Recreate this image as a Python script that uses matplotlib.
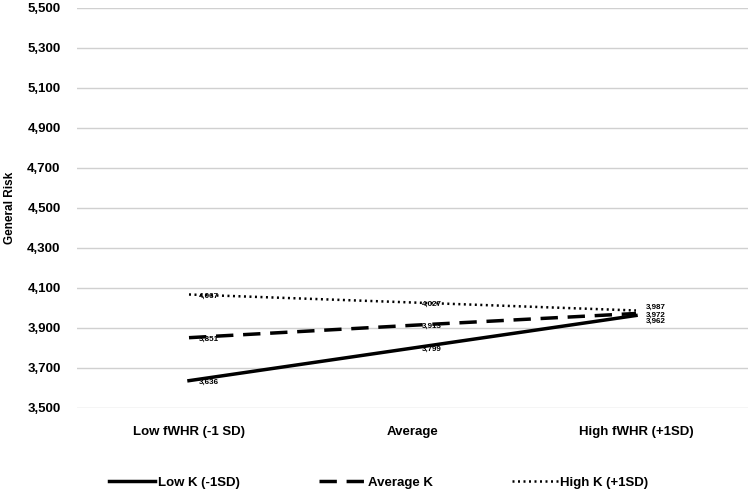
import matplotlib.pyplot as plt
from matplotlib.ticker import FuncFormatter

plt.rcParams['font.family'] = ['Liberation Sans', 'DejaVu Sans']
plt.rcParams['font.weight'] = 'bold'

categories = ["Low fWHR (-1 SD)", "Average", "High fWHR (+1SD)"]
low_k = [3.636, 3.799, 3.962]
avg_k = [3.851, 3.913, 3.972]
high_k = [4.067, 4.027, 3.987]
series_names = ["Low K (-1SD)", "Average K", "High K (+1SD)"]

fig = plt.figure(figsize=(7.5, 4.98), dpi=100)
ax = fig.add_axes([0.103, 0.181, 0.894, 0.803])

x = range(len(categories))
ax.plot(x, low_k, color='black', lw=2.5, ls='-', label=series_names[0])
ax.plot(x, avg_k, color='black', lw=2.5, ls=(0, (5, 2.8)), label=series_names[1])
ax.plot(x, high_k, color='black', lw=1.8, ls=(0, (0.8, 1.4)), label=series_names[2])

def fmt(v):
    return f"{v:,.3f}".replace('.', ',')

# right-end labels crowd together, nudge them apart a little
nudge = {(0, 2): -3, (1, 2): 0, (2, 2): 3}
for s, vals in enumerate((low_k, avg_k, high_k)):
    for i, v in enumerate(vals):
        ax.annotate(fmt(v), (i, v), xytext=(7, -1 + nudge.get((s, i), 0)),
                    textcoords='offset points', ha='left', va='center',
                    fontsize=5.8, fontweight='bold')

ax.set_xlim(-0.5, 2.5)
ax.set_ylim(3.5, 5.5)
ax.set_yticks([3.5 + 0.2 * k for k in range(11)])
ax.yaxis.set_major_formatter(FuncFormatter(lambda v, p: f"{v:.3f}".replace('.', ',')))
ax.set_xticks(list(x))
ax.set_xticklabels(categories, fontweight='bold')
for t in ax.get_yticklabels():
    t.set_fontweight('bold')
ax.tick_params(length=0, labelsize=9.5)
ax.tick_params(axis='x', pad=13)
ax.tick_params(axis='y', pad=12)
ax.grid(axis='y', color='#d0d0d0', lw=1)
ax.set_axisbelow(True)
for s in ax.spines.values():
    s.set_visible(False)

ax.set_ylabel("General Risk", fontsize=8.5, fontweight='bold')
ax.yaxis.set_label_coords(-0.092, 0.5)

leg = fig.legend(loc='lower center', bbox_to_anchor=(0.505, -0.005), ncol=3, frameon=False,
                 fontsize=9.5, handlelength=3.5, columnspacing=6.0, handletextpad=0.2)
for t in leg.get_texts():
    t.set_fontweight('bold')

fig.savefig("out.png", dpi=100)
